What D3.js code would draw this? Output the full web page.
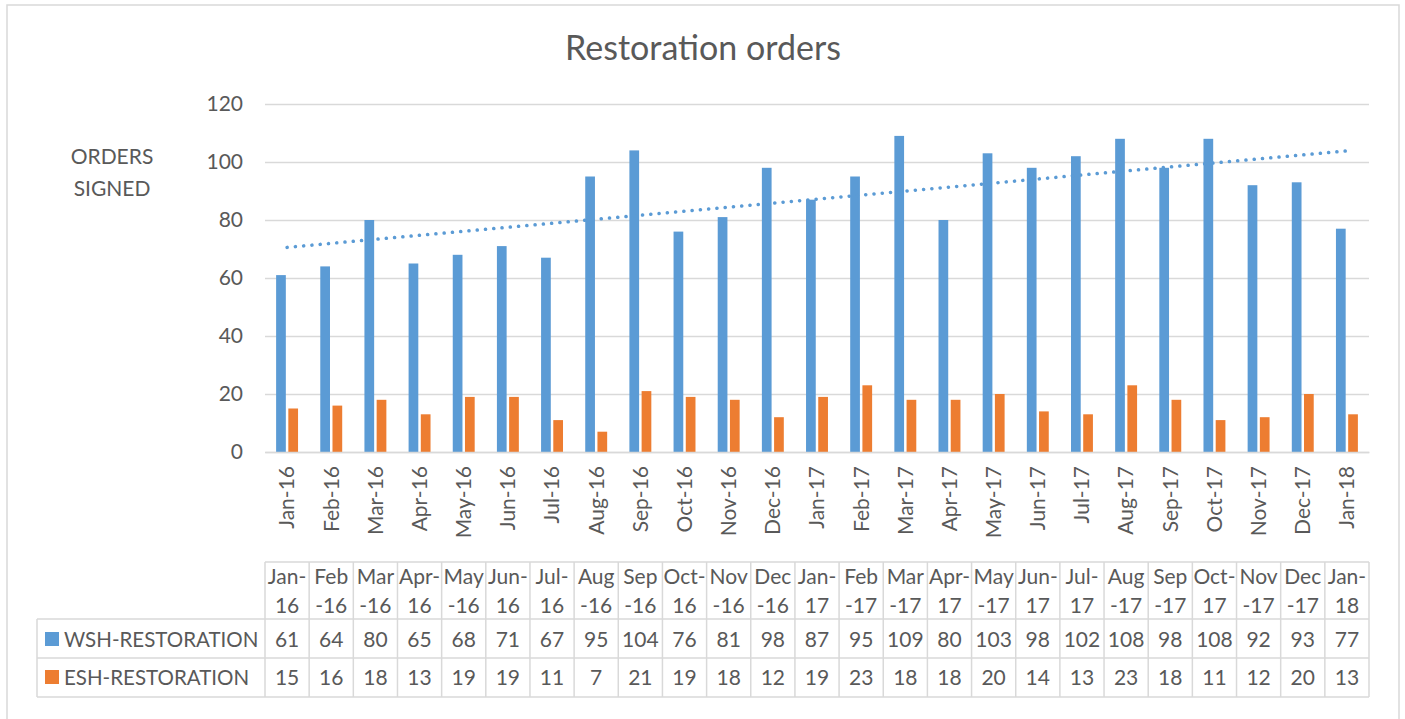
<!DOCTYPE html>
<html>
<head>
<meta charset="utf-8">
<script src="https://cdn.jsdelivr.net/npm/d3@7"></script>
<style>
  body { margin: 0; background: #fff; }
  text { font-family: Lato, "Noto Sans", sans-serif; fill: #595959; }
</style>
</head>
<body>
<div id="chart"></div>
<script>
// Chart values
const months = ["Jan-16", "Feb-16", "Mar-16", "Apr-16", "May-16", "Jun-16", "Jul-16", "Aug-16", "Sep-16",
    "Oct-16", "Nov-16", "Dec-16", "Jan-17", "Feb-17", "Mar-17", "Apr-17", "May-17", "Jun-17", "Jul-17",
    "Aug-17", "Sep-17", "Oct-17", "Nov-17", "Dec-17", "Jan-18"];
const wsh = [61, 64, 80, 65, 68, 71, 67, 95, 104, 76, 81, 98, 87, 95, 109, 80, 103, 98, 102, 108, 98, 108, 92, 93, 77];
const esh = [15, 16, 18, 13, 19, 19, 11, 7, 21, 19, 18, 12, 19, 23, 18, 18, 20, 14, 13, 23, 18, 11, 12, 20, 13];
// how the data table header wraps each month label
const tableHeads = [["Jan-", "16"], ["Feb", "-16"], ["Mar", "-16"], ["Apr-", "16"], ["May", "-16"], ["Jun-", "16"],
    ["Jul-", "16"], ["Aug", "-16"], ["Sep", "-16"], ["Oct-", "16"], ["Nov", "-16"], ["Dec", "-16"],
    ["Jan-", "17"], ["Feb", "-17"], ["Mar", "-17"], ["Apr-", "17"], ["May", "-17"], ["Jun-", "17"],
    ["Jul-", "17"], ["Aug", "-17"], ["Sep", "-17"], ["Oct-", "17"], ["Nov", "-17"], ["Dec", "-17"], ["Jan-", "18"]];
const seriesNames = ["WSH-RESTORATION", "ESH-RESTORATION"];
const yTicks = [0, 20, 40, 60, 80, 100, 120];

const colors = { wsh: '#5b9bd5', esh: '#ed7d31', grid: '#d9d9d9', text: '#595959' };

let svgWidth = 1405, svgHeight = 719;
let plot = { left: 265, right: 1369, top: 104, bottom: 452 };

let svg = d3.select('#chart')
    .append('svg')
    .attr('width', svgWidth)
    .attr('height', svgHeight);

// outer chart border
svg.append('rect')
    .attr('x', 7).attr('y', 5)
    .attr('width', 1392).attr('height', 730)
    .attr('fill', 'none')
    .attr('stroke', colors.grid)
    .attr('stroke-width', 1.5);

// Scales
let xScale = d3.scaleBand()
    .domain(months)
    .range([plot.left, plot.right])
    .padding(0);
let yScale = d3.scaleLinear()
    .domain([0, 120])
    .range([plot.bottom, plot.top]);

let bw = xScale.bandwidth();
let barW = bw * 0.22, barGap = 2.5;

// Title
svg.append('text')
    .attr('x', 703).attr('y', 60)
    .attr('text-anchor', 'middle')
    .style('font-size', '34px')
    .text('Restoration orders');

// Y axis title
svg.append('text')
    .attr('x', 112).attr('y', 164)
    .attr('text-anchor', 'middle')
    .style('font-size', '21px')
    .text('ORDERS');
svg.append('text')
    .attr('x', 112).attr('y', 196)
    .attr('text-anchor', 'middle')
    .style('font-size', '21px')
    .text('SIGNED');

// Gridlines + y tick labels
let yAxis = d3.axisLeft(yScale)
    .tickValues(yTicks)
    .tickSize(-(plot.right - plot.left))
    .tickPadding(22);
let yG = svg.append('g')
    .attr('transform', `translate(${plot.left},0)`)
    .call(yAxis);
yG.select('.domain').remove();
yG.selectAll('.tick line').attr('stroke', colors.grid).attr('stroke-width', 1.5);
yG.selectAll('.tick text')
    .attr('fill', colors.text)
    .style('font-size', '21px')
    .style('font-family', 'Lato, "Noto Sans", sans-serif');

// Bars
svg.append('g').selectAll('rect')
    .data(wsh)
    .join('rect')
    .attr('x', (d, i) => xScale(months[i]) + bw / 2 - barGap / 2 - barW)
    .attr('y', d => yScale(d))
    .attr('width', barW)
    .attr('height', d => yScale(0) - yScale(d))
    .attr('fill', colors.wsh);

svg.append('g').selectAll('rect')
    .data(esh)
    .join('rect')
    .attr('x', (d, i) => xScale(months[i]) + bw / 2 + barGap / 2)
    .attr('y', d => yScale(d))
    .attr('width', barW)
    .attr('height', d => yScale(0) - yScale(d))
    .attr('fill', colors.esh);

// Linear trendline of WSH (least squares fit, as in the source chart)
let n = wsh.length;
let xMean = d3.mean(wsh, (d, i) => i);
let yMean = d3.mean(wsh);
let slope = d3.sum(wsh, (d, i) => (i - xMean) * (d - yMean)) / d3.sum(wsh, (d, i) => (i - xMean) * (i - xMean));
let intercept = yMean - slope * xMean;
let trend = [0, n - 1].map(i => [xScale(months[i]) + bw / 2, yScale(intercept + slope * i)]);
svg.append('path')
    .attr('d', d3.line()(trend))
    .attr('fill', 'none')
    .attr('stroke', colors.wsh)
    .attr('stroke-width', 3.5)
    .attr('stroke-linecap', 'round')
    .attr('stroke-dasharray', '0.1 8.2');

// X axis line and rotated labels
let xAxis = d3.axisBottom(xScale).tickSize(0).tickPadding(0);
let xG = svg.append('g')
    .attr('transform', `translate(0,${plot.bottom})`)
    .call(xAxis);
xG.select('.domain')
    .attr('stroke', colors.grid)
    .attr('stroke-width', 1.5);
xG.selectAll('.tick text')
    .attr('fill', colors.text)
    .style('font-size', '21px')
    .style('font-family', 'Lato, "Noto Sans", sans-serif')
    .attr('text-anchor', 'end')
    .attr('transform', 'rotate(-90)')
    .attr('x', -14)
    .attr('y', 0)
    .attr('dy', '0.35em');

// Data table
let tbl = { left: 37, headTop: 562, headBot: 619, row1: 658, row2: 697 };
let tg = svg.append('g');
let line = (x1, y1, x2, y2) => tg.append('line')
    .attr('x1', x1).attr('y1', y1).attr('x2', x2).attr('y2', y2)
    .attr('stroke', colors.grid).attr('stroke-width', 1.5);

line(plot.left, tbl.headTop, plot.right, tbl.headTop);
line(tbl.left, tbl.headBot, plot.right, tbl.headBot);
line(tbl.left, tbl.row1, plot.right, tbl.row1);
line(tbl.left, tbl.row2, plot.right, tbl.row2);
line(tbl.left, tbl.headBot, tbl.left, tbl.row2);
months.forEach(m => line(xScale(m), tbl.headTop, xScale(m), tbl.row2));
line(plot.right, tbl.headTop, plot.right, tbl.row2);

tg.selectAll('text.h1')
    .data(tableHeads)
    .join('text')
    .attr('x', (d, i) => xScale(months[i]) + bw / 2)
    .attr('y', 584)
    .attr('text-anchor', 'middle')
    .style('font-size', '21px')
    .text(d => d[0]);
tg.selectAll('text.h2')
    .data(tableHeads)
    .join('text')
    .attr('x', (d, i) => xScale(months[i]) + bw / 2)
    .attr('y', 613)
    .attr('text-anchor', 'middle')
    .style('font-size', '21px')
    .text(d => d[1]);

[wsh, esh].forEach((vals, r) => {
    let base = r === 0 ? 647 : 685;
    tg.append('g').selectAll('text')
        .data(vals)
        .join('text')
        .attr('x', (d, i) => xScale(months[i]) + bw / 2)
        .attr('y', base)
        .attr('text-anchor', 'middle')
        .style('font-size', '21px')
        .text(d => d);
    tg.append('rect')
        .attr('x', 45).attr('y', base - 15)
        .attr('width', 14).attr('height', 14)
        .attr('fill', r === 0 ? colors.wsh : colors.esh);
    tg.append('text')
        .attr('x', 64).attr('y', base)
        .style('font-size', '20.5px')
        .text(seriesNames[r]);
});
</script>
</body>
</html>
